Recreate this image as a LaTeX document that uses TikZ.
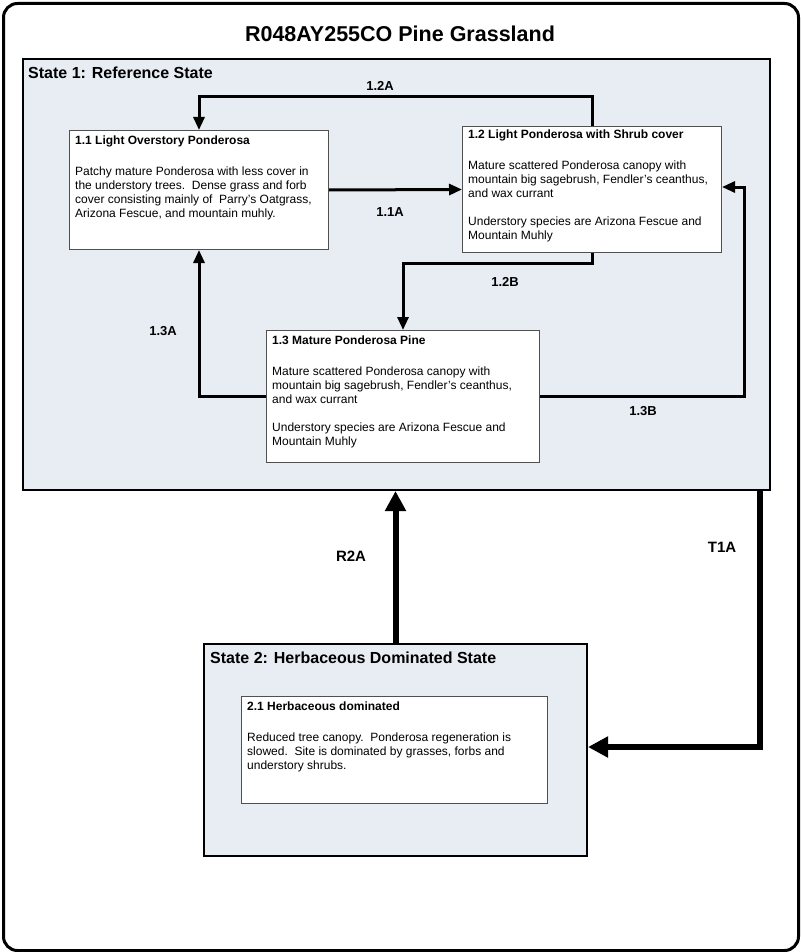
\documentclass[tikz,border=0pt]{standalone}
\usepackage{fontspec}
\setmainfont{Liberation Sans}
\usetikzlibrary{arrows.meta}
\definecolor{statefill}{RGB}{232,237,244}
\definecolor{boxline}{RGB}{80,80,80}
\begin{document}
\begin{tikzpicture}[x=1pt,y=-1pt,
  frame/.style={draw=black,line width=3pt,rounded corners=14pt,anchor=north west,inner sep=0pt},
  statebox/.style={draw=black,fill=statefill,line width=2pt,anchor=north west,inner sep=0pt},
  phasebox/.style={draw=boxline,fill=white,line width=1pt,anchor=north west,inner sep=0pt},
  boxtext/.style={anchor=north west,inner sep=0pt,align=left,font=\fontsize{12}{14.2}\selectfont},
  statelabel/.style={anchor=west,inner sep=0pt,font=\fontsize{16}{19}\selectfont\bfseries},
  translabel/.style={inner sep=0pt,font=\fontsize{13}{15}\selectfont\bfseries},
  biglabel/.style={inner sep=0pt,font=\fontsize{15}{18}\selectfont\bfseries},
  arr/.style={line width=3pt,-{Triangle[length=13pt,width=11pt]}},
  bigarr/.style={line width=6pt,-{Triangle[length=20pt,width=20pt]}}
]
\useasboundingbox (0,0) rectangle (800,952);
\node[frame,minimum width=795pt,minimum height=947pt] (outer) at (2,2) {};
\node[font=\fontsize{21.5}{25}\selectfont\bfseries] (title) at (400,34) {R048AY255CO Pine Grassland};

% State 1
\node[statebox,minimum width=747pt,minimum height=431pt] (s1) at (22,58) {};
\node[statelabel] (s1lab) at (28,73) {State 1: Reference State};

\node[phasebox,minimum width=259pt,minimum height=119pt] (b11) at (69,130) {};
\node[boxtext] (t11) at (75,136) {\textbf{1.1 Light Overstory Ponderosa}\\[16pt]
Patchy mature Ponderosa with less cover in\\
the understory trees.\ \ Dense grass and forb\\
cover consisting mainly of\ \ Parry’s Oatgrass,\\
Arizona Fescue, and mountain muhly.};

\node[phasebox,minimum width=259pt,minimum height=126pt] (b12) at (462,126) {};
\node[boxtext] (t12) at (468,130) {\textbf{1.2 Light Ponderosa with Shrub cover}\\[16pt]
Mature scattered Ponderosa canopy with\\
mountain big sagebrush, Fendler’s ceanthus,\\
and wax currant\\[14pt]
Understory species are Arizona Fescue and\\
Mountain Muhly};

\node[phasebox,minimum width=273pt,minimum height=132pt] (b13) at (266,330) {};
\node[boxtext] (t13) at (272,336) {\textbf{1.3 Mature Ponderosa Pine}\\[16pt]
Mature scattered Ponderosa canopy with\\
mountain big sagebrush, Fendler’s ceanthus,\\
and wax currant\\[14pt]
Understory species are Arizona Fescue and\\
Mountain Muhly};

% State 2
\node[statebox,minimum width=383pt,minimum height=212pt] (s2) at (203,643) {};
\node[statelabel] (s2lab) at (210,658) {State 2: Herbaceous Dominated State};

\node[phasebox,minimum width=306pt,minimum height=107pt] (b21) at (241,696) {};
\node[boxtext] (t21) at (247,702) {\textbf{2.1 Herbaceous dominated}\\[16pt]
Reduced tree canopy.\ \ Ponderosa regeneration is\\
slowed.\ \ Site is dominated by grasses, forbs and\\
understory shrubs.};

% connectors within state 1
\coordinate (c12a) at (592,97);
\draw[arr] (b12.north -| c12a) -- (c12a) -| (b11.north);
\node[translabel] (l12a) at (380,86) {1.2A};

\draw[arr] (b11.east) -- (b12.west);
\node[translabel] (l11a) at (390,212) {1.1A};

\coordinate (c12b) at (592,263);
\draw[arr] (b12.south -| c12b) -- (c12b) -| (b13.north);
\node[translabel] (l12b) at (505,282) {1.2B};

\draw[arr] (b13.west) -| (b11.south);
\node[translabel] (l13a) at (163,331) {1.3A};

\coordinate (c13b) at (744,187);
\draw[arr] (b13.east) -| (c13b) -- (c13b -| b12.east);
\node[translabel] (l13b) at (643,411) {1.3B};

% state transitions
\draw[bigarr] (s2.north) -- (s2.north |- s1.south);
\node[biglabel] (lr2a) at (351,556) {R2A};

\coordinate (ct1a) at (760,747);
\draw[bigarr] (s1.south -| ct1a) -- (ct1a) -- (ct1a -| s2.east);
\node[biglabel] (lt1a) at (722,547) {T1A};
\end{tikzpicture}
\end{document}
